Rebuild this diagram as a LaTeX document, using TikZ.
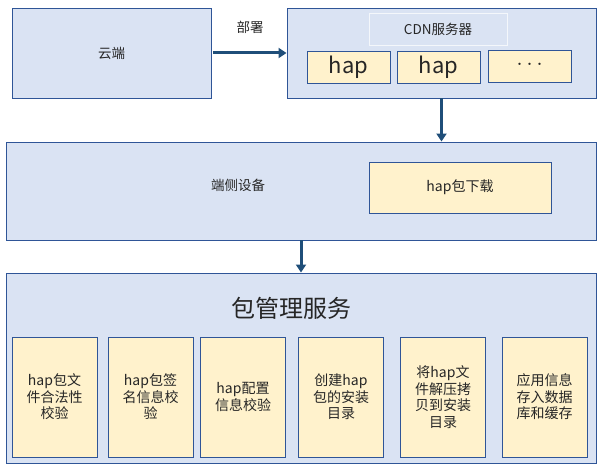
\documentclass[tikz,border=0pt]{standalone}
\usepackage{fontspec}
\setmainfont{Noto Sans CJK SC}
\usetikzlibrary{arrows.meta}
\definecolor{bgblue}{HTML}{DAE3F3}
\definecolor{edgeblue}{HTML}{2F5597}
\definecolor{fillyel}{HTML}{FFF2CC}
\definecolor{arrblue}{HTML}{1F4E79}
\definecolor{txt}{HTML}{262626}
\tikzset{
  outerbox/.style={draw=edgeblue, fill=bgblue, line width=0.9pt, minimum width=#1, inner sep=0pt},
  yelbox/.style={draw=edgeblue, fill=fillyel, line width=0.9pt, inner sep=0pt, text=txt},
  conn/.style={draw=arrblue, line width=3pt, -{Triangle[length=8pt,width=10pt]}},
  lbl/.style={text=txt, inner sep=0pt},
  stagebox/.style={yelbox, minimum width=85pt, minimum height=120pt, align=center, font=\fontsize{14}{16.5}\selectfont},
}
\begin{document}
\begin{tikzpicture}[x=1pt,y=-1pt]
\useasboundingbox (0,0) rectangle (601,470);
% top row
\node[outerbox=199pt, minimum height=90pt, font=\fontsize{13.5}{16}\selectfont, text=txt] (cloud) at (111.5,53) {云端};
\node[outerbox=309pt, minimum height=90pt] (cdn) at (441.5,53) {};
\node[draw=white!70!bgblue, fill=bgblue, line width=0.6pt, minimum width=138pt, minimum height=32pt, inner sep=0pt, text=txt, font=\fontsize{13.5}{16}\selectfont] (cdnlbl) at (438,29) {CDN服务器};
\node[yelbox, minimum width=83pt, minimum height=32pt, font=\fontsize{22}{24}\selectfont] (hapa) at (348.5,67) {hap};
\node[yelbox, minimum width=83pt, minimum height=32pt, font=\fontsize{22}{24}\selectfont] (hapb) at (438.5,67) {hap};
\node[yelbox, minimum width=83pt, minimum height=32pt, font=\fontsize{11}{13}\selectfont] (hapc) at (529.5,66) {·\kern-1pt·\kern-1pt·};
\node[lbl, font=\fontsize{13.5}{16}\selectfont] (deploy) at (250,27) {部署};
% device
\node[outerbox=590pt, minimum height=98pt] (device) at (301,191) {};
\node[lbl, font=\fontsize{13.5}{16}\selectfont] (devlbl) at (238,185) {端侧设备};
\node[yelbox, minimum width=182pt, minimum height=51pt, font=\fontsize{14}{16}\selectfont] (dl) at (460,187.5) {hap包下载};
% package manager
\node[outerbox=590pt, minimum height=190pt] (pkg) at (301,368) {};
\node[lbl, font=\fontsize{24}{26}\selectfont] (title) at (291,308) {包管理服务};
\node[stagebox] (s1) at (54.5,397) {hap包文\\件合法性\\校验};
\node[stagebox] (s2) at (150.5,397) {hap包签\\名信息校\\验};
\node[stagebox] (s3) at (243,397) {hap配置\\信息校验};
\node[stagebox] (s4) at (341,397) {创建hap\\包的安装\\目录};
\node[stagebox] (s5) at (443,397) {将hap文\\件解压拷\\贝到安装\\目录};
\node[stagebox] (s6) at (544.5,397) {应用信息\\存入数据\\库和缓存};
% connectors
\draw[conn] ([xshift=1.5pt]cloud.east) -- (cdn.west);
\draw[conn] (cdn.south) -- (device.north -| cdn.south);
\draw[conn] (device.south) -- (pkg.north);
\end{tikzpicture}
\end{document}
